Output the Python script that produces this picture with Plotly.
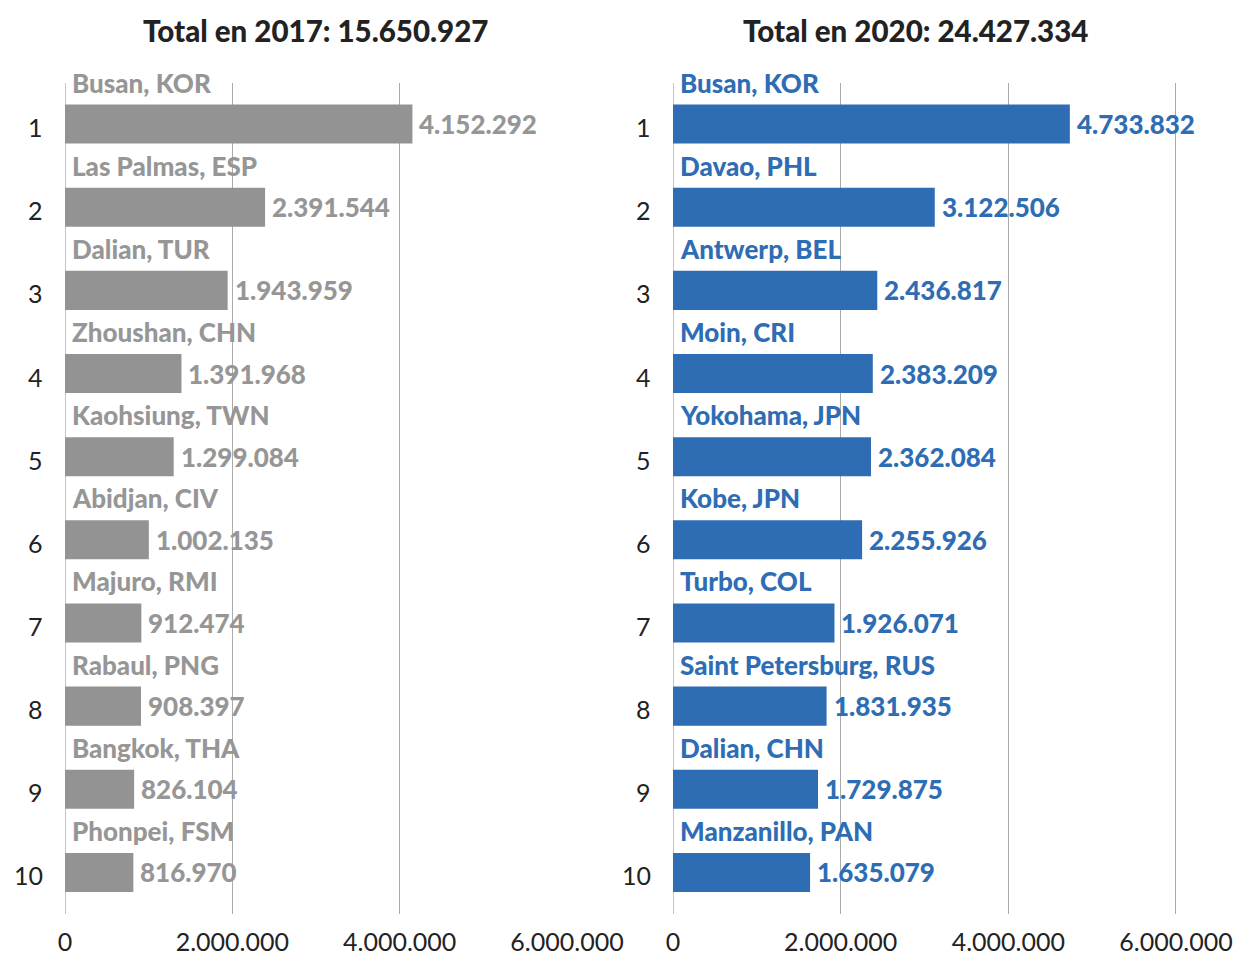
import plotly.graph_objects as go

ranks = list(range(1, 11))

ports_2017 = ["Busan, KOR", "Las Palmas, ESP", "Dalian, TUR", "Zhoushan, CHN", "Kaohsiung, TWN",
              "Abidjan, CIV", "Majuro, RMI", "Rabaul, PNG", "Bangkok, THA", "Phonpei, FSM"]
values_2017 = [4152292, 2391544, 1943959, 1391968, 1299084, 1002135, 912474, 908397, 826104, 816970]

ports_2020 = ["Busan, KOR", "Davao, PHL", "Antwerp, BEL", "Moin, CRI", "Yokohama, JPN",
              "Kobe, JPN", "Turbo, COL", "Saint Petersburg, RUS", "Dalian, CHN", "Manzanillo, PAN"]
values_2020 = [4733832, 3122506, 2436817, 2383209, 2362084, 2255926, 1926071, 1831935, 1729875, 1635079]

titles = ["Total en 2017: 15.650.927", "Total en 2020: 24.427.334"]
x_ticks = [0, 2000000, 4000000, 6000000]
x_ticklabels = ["0", "2.000.000", "4.000.000", "6.000.000"]

GRAY = "#939393"
GRAY_TXT = "#969696"
BLUE = "#2e6db4"
DARK = "#222222"
FONT = "Lato"

W, H = 1234, 954


def fmt(v):
    return f"{v:,}".replace(",", ".")


fig = go.Figure()

panels = [
    (ports_2017, values_2017, GRAY, GRAY_TXT, "x", "y"),
    (ports_2020, values_2020, BLUE, BLUE, "x2", "y2"),
]

for ports, vals, bar_c, txt_c, xa, ya in panels:
    fig.add_trace(go.Bar(
        x=vals, y=ranks, orientation="h", marker=dict(color=bar_c, line=dict(width=0)),
        width=0.47, xaxis=xa, yaxis=ya, showlegend=False, hoverinfo="skip",
    ))
    for r, p, v in zip(ranks, ports, vals):
        fig.add_annotation(x=0, y=r - 0.5, xref=xa, yref=ya, text=p,
                           showarrow=False, xanchor="left", yanchor="middle", xshift=5,
                           font=dict(family=FONT, size=26, color=txt_c, weight=900))
        fig.add_annotation(x=v, y=r, xref=xa, yref=ya, text=fmt(v),
                           showarrow=False, xanchor="left", yanchor="middle", xshift=5,
                           font=dict(family=FONT, size=26, color=txt_c, weight=900))
        fig.add_annotation(x=0, y=r, xref=xa, yref=ya, text=str(r),
                           showarrow=False, xanchor="right", yanchor="middle", xshift=-20, yshift=-3,
                           font=dict(family=FONT, size=25, color=DARK))

title_centers = [315 / W, 915.5 / W]
for t, cx in zip(titles, title_centers):
    fig.add_annotation(x=cx, y=1 - 32 / H, xref="paper", yref="paper", text=t,
                       showarrow=False, xanchor="center", yanchor="middle", yshift=2,
                       font=dict(family=FONT, size=29.5, color=DARK, weight=900))

ydom = [1 - 914 / H, 1 - 82.5 / H]
xaxis_common = dict(range=[0, 6012000], tickvals=x_ticks, ticktext=x_ticklabels,
                    showgrid=True, gridcolor="#ababab", gridwidth=1,
                    zeroline=True, zerolinecolor="#c4c4c4", zerolinewidth=1,
                    showline=False, ticks="outside", ticklen=0, ticklabelstandoff=6,
                    automargin=False,
                    tickfont=dict(family=FONT, size=25, color=DARK), fixedrange=True)
yaxis_common = dict(range=[10.5, 0.5], showticklabels=False,
                    showgrid=False, zeroline=False, showline=False, automargin=False,
                    domain=ydom, fixedrange=True)

fig.update_layout(
    width=W, height=H,
    margin=dict(l=0, r=0, t=0, b=0, autoexpand=False),
    paper_bgcolor="white", plot_bgcolor="white",
    xaxis=dict(domain=[65 / W, 568 / W], anchor="y", **xaxis_common),
    xaxis2=dict(domain=[673 / W, 1177 / W], anchor="y2", **xaxis_common),
    yaxis=dict(anchor="x", **yaxis_common),
    yaxis2=dict(anchor="x2", **yaxis_common),
    bargap=0.5,
)

fig.write_html("out.html")
